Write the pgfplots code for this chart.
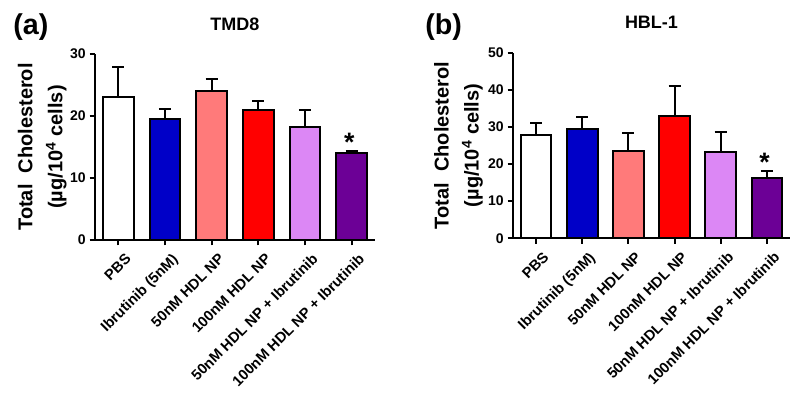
\documentclass[border=0pt]{standalone}
\usepackage{pgfplots}
\pgfplotsset{compat=1.18}
\usepackage{fontspec}
\setmainfont{Liberation Sans}

\definecolor{cBlue}{RGB}{0,0,200}
\definecolor{cPink}{RGB}{255,122,122}
\definecolor{cRed}{RGB}{255,0,0}
\definecolor{cLilac}{RGB}{220,135,245}
\definecolor{cPurple}{RGB}{108,0,150}

\pgfplotsset{
  panel/.style={
    scale only axis, clip=false,
    axis lines=left,
    axis line style={-, line width=1.5pt, black},
    xmin=-0.5, xmax=5.5, ymin=0,
    xtick={0,...,5},
    xticklabels={PBS, Ibrutinib (5nM), 50nM HDL NP, 100nM HDL NP,
                 50nM HDL NP + Ibrutinib, 100nM HDL NP + Ibrutinib},
    tick align=outside,
    major tick length=4pt,
    tick style={line width=1.5pt, black},
    /pgf/number format/assume math mode=true,
    yticklabel style={font=\fontsize{10.5}{12}\selectfont\bfseries, xshift=0.5pt},
    xticklabel style={font=\fontsize{11}{12}\selectfont\bfseries,
                      rotate=45, anchor=north east, inner sep=1pt,
                      xshift=0.5pt, yshift=-6pt},
    ylabel style={font=\fontsize{15}{22.5}\selectfont\bfseries, align=center},
  },
  cbar/.style={ybar, bar shift=0pt, bar width=23pt, draw=black, line width=1.5pt,
    error bars/y dir=plus, error bars/y explicit,
    error bars/error bar style={line width=1.5pt, black},
    error bars/error mark options={rotate=90, mark size=4.5pt, line width=1.5pt, black}},
}

\begin{document}
\begin{tikzpicture}
\path (0,0) rectangle (600pt,300pt);

% (a) TMD8
\begin{axis}[panel,
  at={(71.25pt,120pt)}, anchor=south west,
  width=210pt, height=139.5pt,
  ymax=30, ytick={0,10,20,30},
  ylabel={Total~ Cholesterol\\(µg/10\textsuperscript{4} cells)},
  ylabel style={at={(axis description cs:-0.188,0.5)}, anchor=center}]
\addplot[cbar, fill=white]   coordinates {(0,23.1) +- (0,4.8)};
\addplot[cbar, fill=cBlue]   coordinates {(1,19.5) +- (0,1.6)};
\addplot[cbar, fill=cPink]   coordinates {(2,24.1) +- (0,1.8)};
\addplot[cbar, fill=cRed]    coordinates {(3,20.9) +- (0,1.6)};
\addplot[cbar, fill=cLilac]  coordinates {(4,18.2) +- (0,2.7)};
\addplot[cbar, fill=cPurple] coordinates {(5,14.0) +- (0,0.3)};
\node[font=\fontsize{20}{20}\selectfont\bfseries, anchor=base] at (axis cs:4.95,14.3) {*};
\node[font=\fontsize{13.5}{16}\selectfont\bfseries, anchor=center, yshift=22.5pt]
  at (axis description cs:0.5,1) {TMD8};
\end{axis}

% (b) HBL-1
\begin{axis}[panel,
  at={(384.75pt,121.3pt)}, anchor=south west,
  width=207.75pt, height=139.2pt,
  ymax=50, ytick={0,10,20,30,40,50},
  ylabel={Total~ Cholesterol\\(µg/10\textsuperscript{4} cells)},
  ylabel style={at={(axis description cs:-0.197,0.5)}, anchor=center}]
\addplot[cbar, fill=white]   coordinates {(0,27.8) +- (0,3.2)};
\addplot[cbar, fill=cBlue]   coordinates {(1,29.4) +- (0,3.4)};
\addplot[cbar, fill=cPink]   coordinates {(2,23.6) +- (0,4.7)};
\addplot[cbar, fill=cRed]    coordinates {(3,33.0) +- (0,7.9)};
\addplot[cbar, fill=cLilac]  coordinates {(4,23.3) +- (0,5.4)};
\addplot[cbar, fill=cPurple] coordinates {(5,16.3) +- (0,1.7)};
\node[font=\fontsize{20}{20}\selectfont\bfseries, anchor=base] at (axis cs:4.95,18.0) {*};
\node[font=\fontsize{13.5}{16}\selectfont\bfseries, anchor=center, yshift=22.5pt]
  at (axis description cs:0.5,1) {HBL-1};
\end{axis}

\node[font=\fontsize{21.5}{24}\selectfont\bfseries, anchor=west, inner sep=0pt] at (9.75pt,280pt) {(a)};
\node[font=\fontsize{21.5}{24}\selectfont\bfseries, anchor=west, inner sep=0pt] at (318.75pt,280pt) {(b)};
\end{tikzpicture}
\end{document}
